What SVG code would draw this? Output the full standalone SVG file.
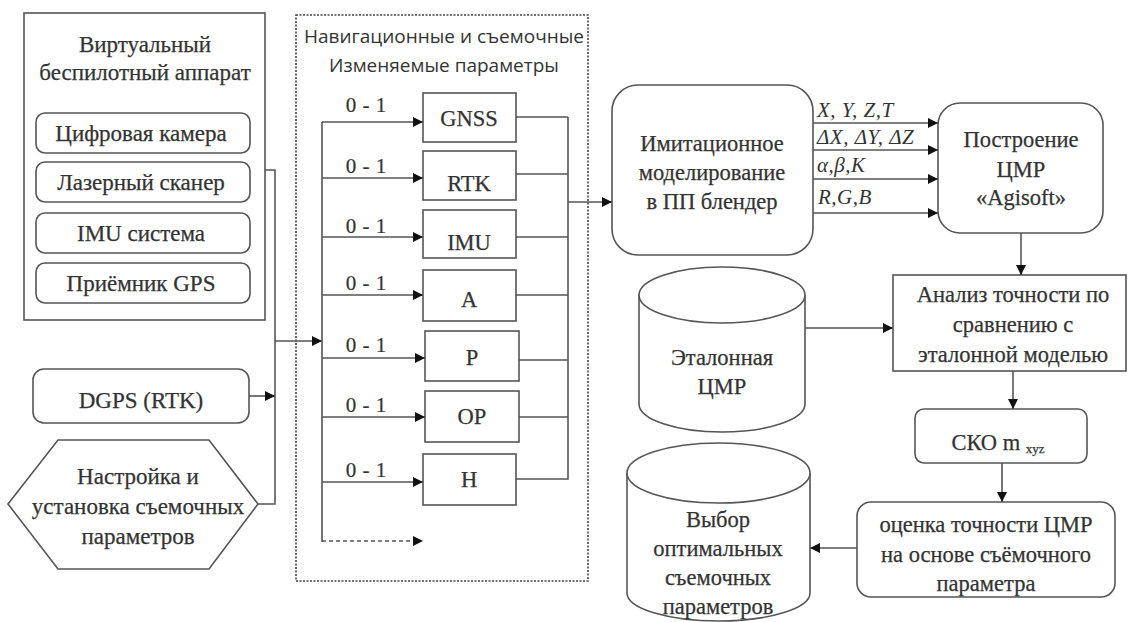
<svg xmlns="http://www.w3.org/2000/svg" width="1135" height="622" viewBox="0 0 1135 622">
<defs>
<marker id="ah" viewBox="0 0 10 10" refX="10" refY="5" markerWidth="10" markerHeight="10" markerUnits="userSpaceOnUse" orient="auto">
<path d="M0,0 L10,5 L0,10 z" fill="#111"/>
</marker>
<style>
.b{fill:#fff;stroke:#555;stroke-width:1.6}
.t{font-family:"Liberation Serif","Times New Roman",serif;font-size:22.5px;fill:#333;stroke:#333;stroke-width:0.25;text-anchor:middle}
.u{font-size:23px}
.s{font-family:"Open Sans",sans-serif;font-size:19px;fill:#333;text-anchor:middle}
.l{font-family:"Liberation Serif","Times New Roman",serif;font-size:21px;fill:#333;stroke:#333;stroke-width:0.2;text-anchor:middle;word-spacing:1px}
.i{font-family:"Liberation Serif","Times New Roman",serif;font-size:21px;font-style:italic;fill:#333;letter-spacing:0.5px}
.c{fill:none;stroke:#555;stroke-width:1.6}
.a{fill:none;stroke:#555;stroke-width:1.6;marker-end:url(#ah)}
</style>
</defs>
<rect width="1135" height="622" fill="#fff"/>

<g id="uav">
<rect class="b" x="24" y="13" width="241" height="307"/>
<text class="t u" x="145" y="52">Виртуальный</text>
<text class="t u" x="145" y="80">беспилотный аппарат</text>
</g>
<g id="camera"><rect class="b" x="36" y="113" width="214" height="40" rx="9"/><text class="t u" x="141" y="141">Цифровая камера</text></g>
<g id="laser"><rect class="b" x="36" y="162" width="214" height="40" rx="9"/><text class="t u" x="141" y="190">Лазерный сканер</text></g>
<g id="imu-sys"><rect class="b" x="36" y="213" width="214" height="40" rx="9"/><text class="t u" x="141" y="241">IMU система</text></g>
<g id="gps"><rect class="b" x="36" y="263" width="214" height="40" rx="9"/><text class="t u" x="141" y="291">Приёмник GPS</text></g>

<g id="dgps"><rect class="b" x="33" y="369" width="216" height="54" rx="11"/><text class="t u" x="141" y="408">DGPS (RTK)</text></g>
<g id="setup">
<polygon class="b" points="8,504 58,440 209,440 258,504 209,569 58,569"/>
<text class="t u" x="138" y="484">Настройка и</text>
<text class="t u" x="138" y="514">установка съемочных</text>
<text class="t u" x="138" y="544">параметров</text>
</g>

<g id="params">
<rect x="296" y="15" width="292" height="566" fill="none" stroke="#444" stroke-width="1.6" stroke-dasharray="2,1.5"/>
<text class="s" x="444" y="43">Навигационные и съемочные</text>
<text class="s" x="444" y="72">Изменяемые  параметры</text>
</g>
<g id="gnss"><rect class="b" x="423" y="93" width="93" height="49"/><text class="t" x="469" y="126">GNSS</text></g>
<g id="rtk"><rect class="b" x="423" y="151" width="93" height="49"/><text class="t" x="469" y="191">RTK</text></g>
<g id="imu"><rect class="b" x="423" y="210" width="93" height="48"/><text class="t" x="469" y="250">IMU</text></g>
<g id="a"><rect class="b" x="423" y="270" width="93" height="51"/><text class="t" x="469" y="307">A</text></g>
<g id="p"><rect class="b" x="425" y="331" width="94" height="50"/><text class="t" x="472" y="365">P</text></g>
<g id="op"><rect class="b" x="425" y="391" width="94" height="51"/><text class="t" x="472" y="424">OP</text></g>
<g id="h"><rect class="b" x="423" y="454" width="93" height="51"/><text class="t" x="469" y="487">H</text></g>

<g id="sim"><rect class="b" x="612" y="85" width="201" height="170" rx="26"/>
<text class="t" x="712" y="151">Имитационное</text>
<text class="t" x="712" y="180">моделирование</text>
<text class="t" x="712" y="209">в ПП блендер</text></g>
<g id="agisoft"><rect class="b" x="938" y="103" width="165" height="130" rx="22"/>
<text class="t" x="1021" y="147">Построение</text>
<text class="t" x="1021" y="177">ЦМР</text>
<text class="t" x="1021" y="205">«Agisoft»</text></g>
<g id="analysis"><rect class="b" x="893" y="275" width="233" height="96"/>
<text class="t" x="1013" y="302">Анализ точности по</text>
<text class="t" x="1013" y="332">сравнению с</text>
<text class="t" x="1013" y="362">эталонной моделью</text></g>
<g id="etalon">
<path class="b" d="M639,295 L639,404 A83,28 0 0 0 805,404 L805,295"/>
<ellipse class="b" cx="722" cy="295" rx="83" ry="28"/>
<text class="t" x="722" y="365">Эталонная</text>
<text class="t" x="722" y="394">ЦМР</text></g>
<g id="sko"><rect class="b" x="915" y="409" width="172" height="54" rx="9"/>
<text class="t" x="998" y="450">СКО m <tspan font-size="13" dy="3">xyz</tspan></text></g>
<g id="estimate"><rect class="b" x="857" y="502" width="258" height="95" rx="14"/>
<text class="t" x="986" y="532">оценка точности ЦМР</text>
<text class="t" x="986" y="562">на основе съёмочного</text>
<text class="t" x="986" y="591">параметра</text></g>
<g id="choice">
<path class="b" d="M627,473 L627,593 A91.5,28 0 0 0 810,593 L810,473"/>
<ellipse class="b" cx="718.5" cy="473" rx="91.5" ry="30"/>
<text class="t" x="718" y="527">Выбор</text>
<text class="t" x="718" y="556">оптимальных</text>
<text class="t" x="718" y="585">съемочных</text>
<text class="t" x="718" y="614">параметров</text></g>

<g id="connectors">
<path class="c" d="M265,170 H275 V504 H258"/>
<path class="a" d="M249,396 H275"/>
<path class="a" d="M275,341 H322"/>
<path class="c" d="M322,122 V542"/>
<path class="a" d="M322,122 H423"/>
<path class="a" d="M322,178 H423"/>
<path class="a" d="M322,237 H423"/>
<path class="a" d="M322,295 H423"/>
<path class="a" d="M322,358 H425"/>
<path class="a" d="M322,417 H425"/>
<path class="a" d="M322,482 H423"/>
<path fill="none" stroke="#555" stroke-width="1.6" stroke-dasharray="4,3" d="M322,541 H415"/>
<path d="M413,536 L423,541 L413,546 z" fill="#111"/>
<path class="c" d="M516,117 H568 M516,174 H568 M516,237 H568 M516,295 H568 M519,360 H568 M519,417 H568 M516,479 H568 V117"/>
<path class="a" d="M568,202 H612"/>
<path class="a" d="M813,123 H938"/>
<path class="a" d="M813,150 H938"/>
<path class="a" d="M813,179 H938"/>
<path class="a" d="M813,213 H938"/>
<path class="a" d="M1021,233 V275"/>
<path class="a" d="M805,328 H893"/>
<path class="a" d="M1013,371 V409"/>
<path class="a" d="M1002,463 V502"/>
<path class="a" d="M857,548 H810"/>
</g>
<g id="labels">
<text class="l" x="366" y="112">0 - 1</text>
<text class="l" x="366" y="173">0 - 1</text>
<text class="l" x="366" y="233">0 - 1</text>
<text class="l" x="366" y="290">0 - 1</text>
<text class="l" x="366" y="352">0 - 1</text>
<text class="l" x="366" y="412">0 - 1</text>
<text class="l" x="366" y="477">0 - 1</text>
<text class="i" x="817" y="117">X, Y, Z,T</text>
<text class="i" x="817" y="144">ΔX, ΔY, ΔZ</text>
<text class="i" x="817" y="172">α,β,K</text>
<text class="i" x="818" y="204">R,G,B</text>
</g>
</svg>
